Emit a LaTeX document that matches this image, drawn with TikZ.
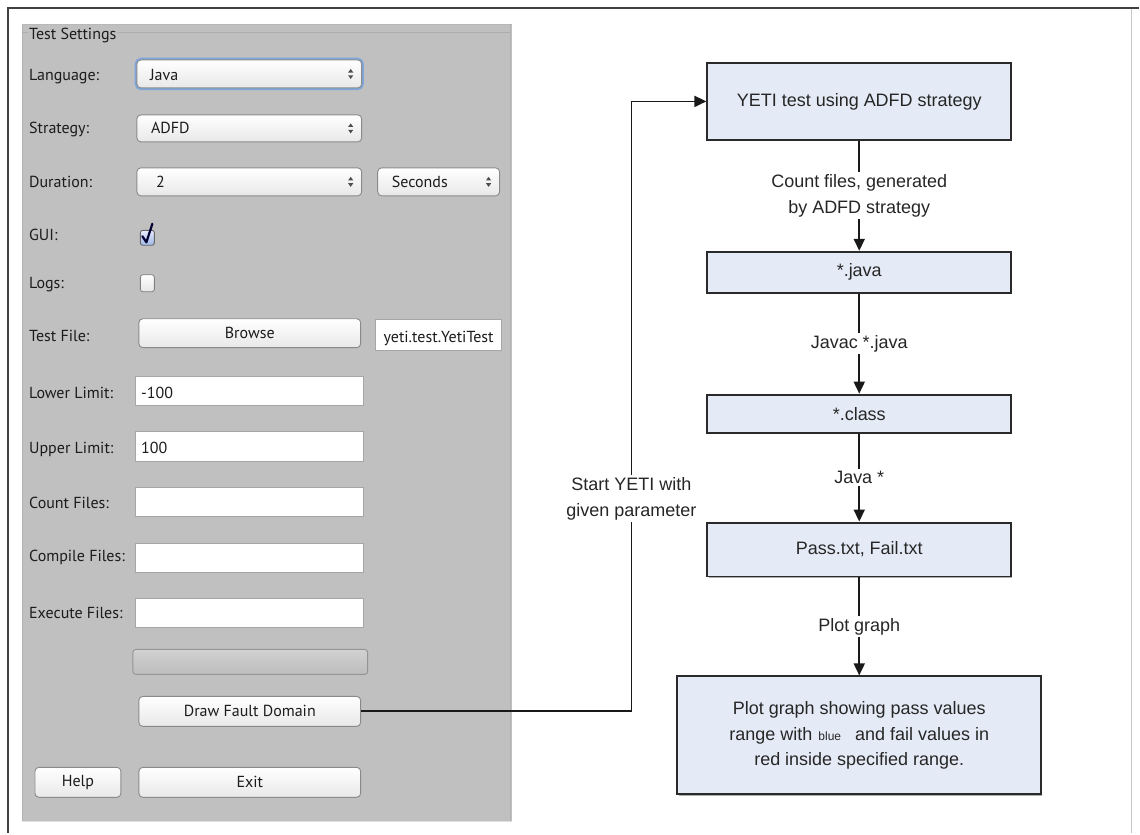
\documentclass[tikz,border=0pt]{standalone}
\usepackage{fontspec}
\setmainfont{Liberation Sans}
\newfontfamily\uifont{PT Sans}
\usetikzlibrary{arrows.meta,shadows}
\definecolor{panelgray}{HTML}{C0C0C0}
\definecolor{flowfill}{HTML}{E5EBF6}
\definecolor{flowline}{HTML}{2A2A2A}
\definecolor{fieldline}{HTML}{A6A6A6}
\definecolor{btnline}{HTML}{8A8A8A}
\definecolor{focusblue}{HTML}{7EA6DA}
\definecolor{uitext}{HTML}{1C1C1C}
\definecolor{chkblue}{HTML}{9DB8E4}
\begin{document}
\begin{tikzpicture}[x=1pt,y=-1pt,
  uifnt/.style={font=\uifont\fontsize{16}{18}\selectfont, text=uitext},
  uilabel/.style={uifnt, anchor=base west, inner sep=0pt},
  field/.style={draw=fieldline, fill=white, line width=0.9pt, inner sep=0pt},
  button/.style={draw=btnline, rounded corners=4pt, top color=white, bottom color=black!9, line width=0.9pt, uifnt, inner sep=0pt},
  combo/.style={button},
  updown/.pic={\fill[black!70] (-2.6,-1.4) -- (2.6,-1.4) -- (0,-5) -- cycle;
               \fill[black!70] (-2.6,1.4) -- (2.6,1.4) -- (0,5) -- cycle;},
  flowbox/.style={draw=flowline, fill=flowfill, line width=2pt, font=\fontsize{18}{26}\selectfont, align=center, inner sep=0pt, text=black!85,
    drop shadow={shadow xshift=1.2pt, shadow yshift=-1.4pt, fill=black!45, opacity=0.7}},
  flowlabel/.style={fill=white, font=\fontsize{18}{26}\selectfont, align=center, inner sep=2pt, text=black!85},
  arr/.style={line width=1.8pt, draw=black!90, -{Triangle[length=12pt,width=11pt]}},
]
% background and frame
\fill[white] (0,0) rectangle (1140,834);
\draw[line width=2pt, black!75] (7,8) -- (1140,8);
\draw[line width=2pt, black!75] (8,7) -- (8,834);
\draw[line width=1pt, black!22] (1132,9) -- (1132,834);

% panel
\fill[panelgray] (22,24) rectangle (512,822);
\draw[line width=1pt, black!12] (22.5,822) -- (512,822);
\draw[line width=1pt, black!30] (22.5,24) -- (22.5,822);
\draw[line width=1pt, black!28] (22,24.5) -- (512,24.5);
\draw[line width=1.5pt, black!30] (511,24) -- (511,822);
\draw[line width=0.8pt, black!32] (23,32) -- (510,32);
\node[uilabel, fill=panelgray, inner xsep=1pt] (legend) at (28,40) {Test Settings};

% labels
\node[uilabel] (lLang) at (29,81) {Language:};
\node[uilabel] (lStrat) at (29,134) {Strategy:};
\node[uilabel] (lDur) at (29,188) {Duration:};
\node[uilabel] (lGui) at (29,241) {GUI:};
\node[uilabel] (lLogs) at (29,289) {Logs:};
\node[uilabel] (lFile) at (29,342) {Test File:};
\node[uilabel] (lLow) at (29,399) {Lower Limit:};
\node[uilabel] (lUp) at (29,454) {Upper Limit:};
\node[uilabel] (lCount) at (29,509) {Count Files:};
\node[uilabel] (lComp) at (29,562) {Compile Files:};
\node[uilabel] (lExec) at (29,619) {Execute Files:};

% combo boxes
\draw[focusblue, line width=2.4pt, rounded corners=5pt] (136,59) rectangle (363,89);
\node[combo, minimum width=225, minimum height=28] (cLang) at (249.5,74) {};
\node[uilabel] (tLang) at (150,81) {Java};
\pic at (351,74) {updown};
\node[combo, minimum width=225, minimum height=27] (cStrat) at (249.5,128.5) {};
\node[uilabel] (tStrat) at (151,134) {ADFD};
\pic at (351,128.5) {updown};
\node[combo, minimum width=225, minimum height=28] (cDur) at (249.5,182) {};
\node[uilabel] (tDur) at (156,188) {2};
\pic at (351,182) {updown};
\node[combo, minimum width=122, minimum height=28] (cSec) at (439,182) {};
\node[uilabel] (tSec) at (392,188) {Seconds};
\pic at (489,182) {updown};

% checkboxes
\node[draw=black!60, rounded corners=2.5pt, top color=blue!8!white, bottom color=chkblue, minimum width=14, minimum height=15, inner sep=0pt, line width=0.9pt] (chkGui) at (147.5,238) {};
\draw[line width=2.2pt, black!80!blue, line cap=round, line join=round] (142.5,236.5) -- (146.5,242.5) -- (152.5,224);
\node[draw=black!50, rounded corners=2.5pt, top color=white, bottom color=black!10, minimum width=14, minimum height=17, inner sep=0pt, line width=0.8pt] (chkLogs) at (147.5,283.5) {};

% test file row
\node[button, minimum width=222, minimum height=29] (browse) at (250,333.5) {Browse};
\node[field, minimum width=126, minimum height=31] (yeti) at (439,335.5) {};
\node[uilabel, anchor=base] (tYeti) at (439,343) {yeti.test.YetiTest};

% text fields
\node[field, minimum width=228, minimum height=29] (fLow) at (250,391.5) {};
\node[uilabel] (tLow) at (141,399) {-100};
\node[field, minimum width=228, minimum height=30] (fUp) at (250,447) {};
\node[uilabel] (tUp) at (141,454) {100};
\node[field, minimum width=228, minimum height=29] (fCount) at (250,502.5) {};
\node[field, minimum width=228, minimum height=29] (fComp) at (250,558.5) {};
\node[field, minimum width=228, minimum height=29] (fExec) at (250,613.5) {};

% progress bar
\node[draw=black!42, rounded corners=3pt, top color=black!18, bottom color=black!26, minimum width=235, minimum height=25, inner sep=0pt, line width=0.9pt] (progress) at (250.5,662.5) {};

% buttons
\node[button, minimum width=222, minimum height=30] (dfd) at (250,712) {Draw Fault Domain};
\node[button, minimum width=86, minimum height=30] (help) at (78,783) {Help};
\node[button, minimum width=222, minimum height=30] (exit) at (250,783) {Exit};

% flowchart
\node[flowbox, minimum width=304, minimum height=77] (b1) at (860,101.5) {YETI test using ADFD strategy};
\node[flowbox, minimum width=304, minimum height=41] (b2) at (860,272.5) {*.java};
\node[flowbox, minimum width=304, minimum height=38] (b3) at (860,414) {*.class};
\node[flowbox, minimum width=304, minimum height=54] (b4) at (860,550) {Pass.txt, Fail.txt};
\node[flowbox, minimum width=364, minimum height=118] (b5) at (860,736)
  {Plot graph showing pass values\\range with\hspace{6pt}{\fontsize{12}{12}\selectfont blue}\hspace{14pt}and fail values in\\red inside specified range.};

\draw[arr] (b1) -- (b2) node[flowlabel, pos=0.5] (l1) {Count files, generated\\by ADFD strategy};
\draw[arr] (b2) -- (b3) node[flowlabel, pos=0.5] (l2) {Javac *.java};
\draw[arr] (b3) -- (b4) node[flowlabel, pos=0.5] (l3) {Java *};
\draw[arr] (b4) -- (b5) node[flowlabel, pos=0.5] (l4) {Plot graph};

\coordinate (turn) at (632,712);
\draw[arr] (dfd.east) -- (turn) |- (b1.west);
\node[flowlabel] (lstart) at (632,499) {Start YETI with\\given parameter};
\end{tikzpicture}
\end{document}
